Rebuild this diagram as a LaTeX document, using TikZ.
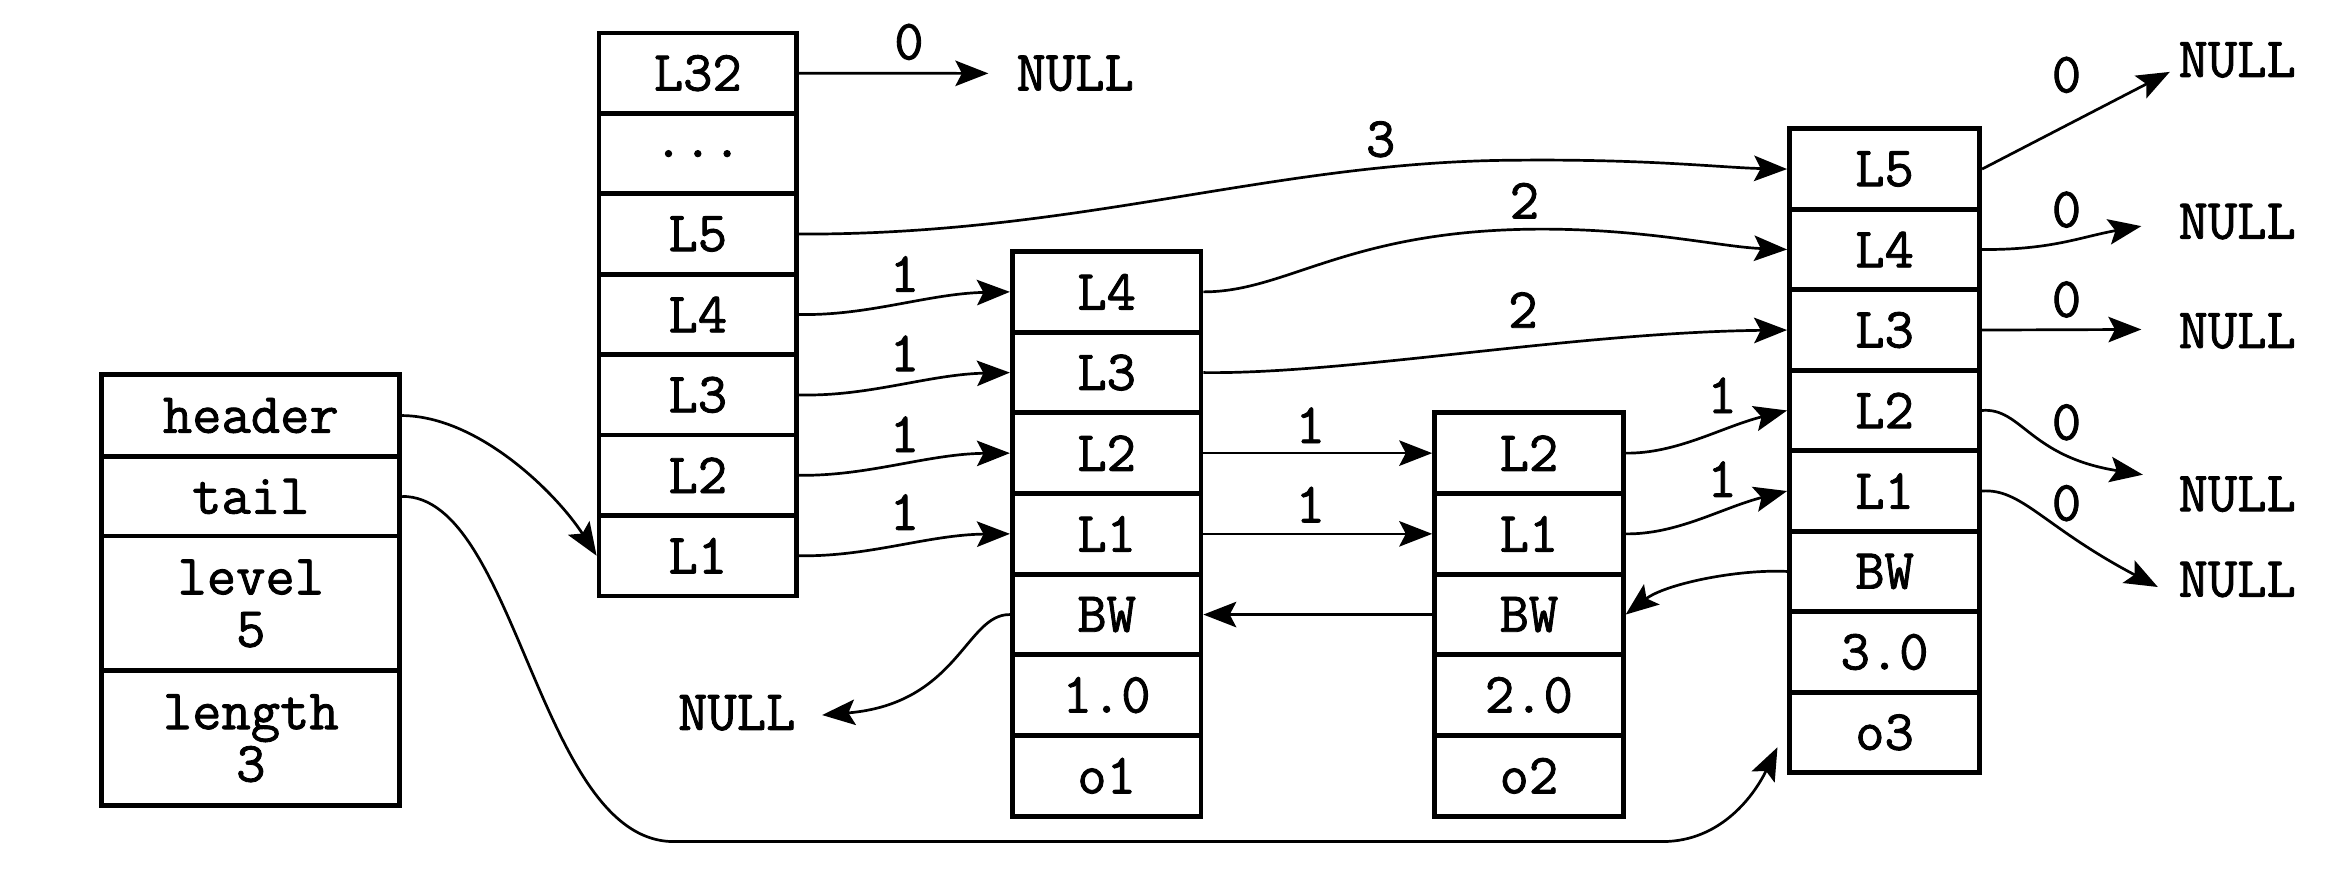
\documentclass[tikz,border=0pt]{standalone}
\usepackage{fontspec}
\usetikzlibrary{arrows.meta}
\newfontfamily\tmono{Latin Modern Mono}[FakeBold=1.5]
\newcommand\tfont{\tmono\fontsize{19}{17.5}\selectfont}
\tikzset{
  cell/.style={draw, line width=1.6pt, inner sep=0pt, font=\tfont, align=center},
  hcol/.style={cell, minimum width=99.5pt},
  lcol/.style={cell, minimum width=66pt, minimum height=26.85pt},
  ncol/.style={cell, minimum width=63pt, minimum height=26.93pt},
  dcol/.style={cell, minimum width=63.5pt, minimum height=26.875pt},
  lbl/.style={inner sep=0pt, font=\tfont},
  arr/.style={line width=0.9pt, -{Stealth[length=11pt,width=8.5pt,inset=2.2pt]}},
}
\begin{document}
\begin{tikzpicture}[x=0.5pt,y=-0.5pt]
\useasboundingbox (0,0) rectangle (1568,580);
% list header
\node[hcol, minimum height=27.5pt] (hd) at (167.5,277.5) {header};
\node[hcol, minimum height=26.5pt] (tl) at (167.5,331.5) {tail};
\node[hcol, minimum height=45pt] (lv) at (167.5,403) {level\\5};
\node[hcol, minimum height=45pt] (ln) at (167.5,493) {length\\3};
% header node levels
\node[lcol] (a32) at (466,48.85) {L32};
\node[lcol] (adots) at (466,102.6) {...};
\node[lcol] (a5) at (466,156.3) {L5};
\node[lcol] (a4) at (466,210) {L4};
\node[lcol] (a3) at (466,263.7) {L3};
\node[lcol] (a2) at (466,317.4) {L2};
\node[lcol] (a1) at (466,371.1) {L1};
% node 1
\node[ncol] (b4) at (739,194.9) {L4};
\node[ncol] (b3) at (739,248.8) {L3};
\node[ncol] (b2) at (739,302.6) {L2};
\node[ncol] (b1) at (739,356.5) {L1};
\node[ncol] (bbw) at (739,410.4) {BW};
\node[ncol] (bsc) at (739,464.2) {1.0};
\node[ncol] (bob) at (739,518.1) {o1};
% node 2
\node[ncol] (c2) at (1021,302.6) {L2};
\node[ncol] (c1) at (1021,356.5) {L1};
\node[ncol] (cbw) at (1021,410.4) {BW};
\node[ncol] (csc) at (1021,464.2) {2.0};
\node[ncol] (cob) at (1021,518.1) {o2};
% node 3
\node[dcol] (d5) at (1258.5,112.9) {L5};
\node[dcol] (d4) at (1258.5,166.6) {L4};
\node[dcol] (d3) at (1258.5,220.4) {L3};
\node[dcol] (d2) at (1258.5,274.1) {L2};
\node[dcol] (d1) at (1258.5,327.9) {L1};
\node[dcol] (dbw) at (1258.5,381.6) {BW};
\node[dcol] (dsc) at (1258.5,435.4) {3.0};
\node[dcol] (dob) at (1258.5,489.1) {o3};
% NULL texts
\node[lbl] (n0) at (718,49) {NULL};
\node[lbl] (nb) at (492,476) {NULL};
\node[lbl] (n5) at (1494,40) {NULL};
\node[lbl] (n4) at (1494,148) {NULL};
\node[lbl] (n3) at (1494,221) {NULL};
\node[lbl] (n2) at (1494,330) {NULL};
\node[lbl] (n1) at (1494,387) {NULL};
% span labels
\node[lbl] (s32) at (607,28) {0};
\node[lbl] (s5) at (922,93) {3};
\node[lbl] (s4b) at (1018,134) {2};
\node[lbl] (s3b) at (1017,207) {2};
\node[lbl] (s4a) at (604,183) {1};
\node[lbl] (s3a) at (604,236) {1};
\node[lbl] (s2a) at (604,290) {1};
\node[lbl] (s1a) at (604,342) {1};
\node[lbl] (s2b) at (875,284) {1};
\node[lbl] (s1b) at (875,337) {1};
\node[lbl] (s2c) at (1150,264) {1};
\node[lbl] (s1c) at (1150,320) {1};
\node[lbl] (z5) at (1380,50) {0};
\node[lbl] (z4) at (1380,140) {0};
\node[lbl] (z3) at (1380,200) {0};
\node[lbl] (z2) at (1380,282) {0};
\node[lbl] (z1) at (1380,336) {0};
% free ends
\coordinate (t32) at (660,49);
\coordinate (tb) at (549,477.5);
\coordinate (t5) at (1449,48);
\coordinate (t4) at (1430,151);
\coordinate (t3) at (1430,220);
\coordinate (t2) at (1431,317);
\coordinate (t1) at (1441,392);
\coordinate (q1) at (450,562);
\coordinate (q2) at (1110,562);
\coordinate (q3) at (1187,499);
% connectors
\draw[arr] (hd.east) .. controls (320,278) and (372,330) .. (a1.west);
\draw[arr] (tl.east) .. controls (345,331) and (360,562) .. (q1) -- (q2) .. controls (1150,562) and (1172,530) .. (q3);
\draw[arr] (a32.east) -- (t32);
\draw[arr] (a5.east) .. controls (720,157) and (850,108) .. (1010,107) .. controls (1100,106) and (1150,112) .. (d5.west);
\draw[arr] (a4.east) .. controls (580,211) and (620,196) .. (b4.west);
\draw[arr] (a3.east) .. controls (580,265) and (620,250) .. (b3.west);
\draw[arr] (a2.east) .. controls (580,318) and (620,303) .. (b2.west);
\draw[arr] (a1.east) .. controls (580,372) and (620,357) .. (b1.west);
\draw[arr] (b4.east) .. controls (860,195) and (900,153) .. (1030,153) .. controls (1100,153) and (1150,165) .. (d4.west);
\draw[arr] (b3.east) .. controls (900,250) and (1050,222) .. (d3.west);
\draw[arr] (b2.east) -- (c2.west);
\draw[arr] (b1.east) -- (c1.west);
\draw[arr] (c2.east) .. controls (1120,303) and (1150,285) .. (d2.west);
\draw[arr] (c1.east) .. controls (1120,357) and (1150,339) .. (d1.west);
\draw[arr] (dbw.west) .. controls (1160,380) and (1112,390) .. (cbw.east);
\draw[arr] (cbw.west) -- (bbw.east);
\draw[arr] (bbw.west) .. controls (645,410) and (640,470) .. (tb);
\draw[arr] (d5.east) -- (t5);
\draw[arr] (d4.east) .. controls (1370,167) and (1390,158) .. (t4);
\draw[arr] (d3.east) -- (t3);
\draw[arr] (d2.east) .. controls (1350,272) and (1355,305) .. (t2);
\draw[arr] (d1.east) .. controls (1350,326) and (1365,352) .. (t1);
\end{tikzpicture}
\end{document}
